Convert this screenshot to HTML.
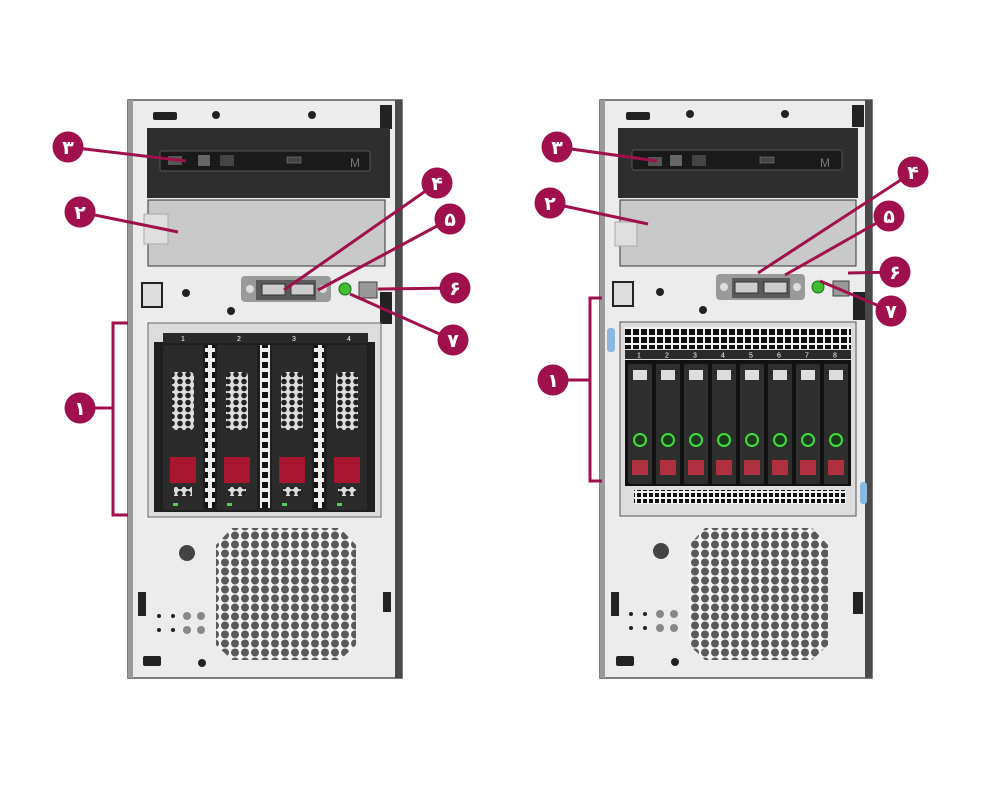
<!DOCTYPE html>
<html><head><meta charset="utf-8"><style>
html,body{margin:0;padding:0;background:#fff;width:1000px;height:800px;overflow:hidden}
svg{display:block}
text{font-family:"Liberation Sans","DejaVu Sans",sans-serif}
</style></head><body>
<svg width="1000" height="800" viewBox="0 0 1000 800" xmlns="http://www.w3.org/2000/svg">
<defs>
<pattern id="hex" x="0" y="0" width="10" height="9" patternUnits="userSpaceOnUse">
<rect width="10" height="9" fill="#f4f4f4"/>
<circle cx="5" cy="4.5" r="4" fill="#5a5a5a"/>
</pattern>
<pattern id="hexd" x="0" y="0" width="8" height="7" patternUnits="userSpaceOnUse">
<rect width="8" height="7" fill="#ddd"/>
<circle cx="4" cy="3.5" r="2.8" fill="#222"/>
</pattern>
<pattern id="vent" x="0" y="0" width="8" height="8" patternUnits="userSpaceOnUse">
<rect width="8" height="8" fill="#f2f2f2"/>
<rect x="1" y="1" width="6" height="6" fill="#111"/>
</pattern>
<pattern id="vent2" x="0" y="0" width="6" height="6" patternUnits="userSpaceOnUse">
<rect width="6" height="6" fill="#f2f2f2"/>
<rect x="1" y="1" width="4" height="4" fill="#111"/>
</pattern>
<pattern id="ladder" x="0" y="0" width="10" height="10" patternUnits="userSpaceOnUse">
<rect width="10" height="10" fill="#eee"/>
<rect x="2" y="2" width="6" height="6" fill="#111"/>
</pattern>
</defs>

<!-- ================= LEFT SERVER ================= -->
<rect x="128" y="100" width="274" height="578" fill="#ececec" stroke="#555" stroke-width="1.5"/>
<rect x="128" y="100" width="5" height="578" fill="#9a9a9a"/>
<rect x="395" y="100" width="7" height="578" fill="#4a4a4a"/>
<rect x="380" y="105" width="12" height="24" fill="#222"/>
<rect x="380" y="292" width="12" height="32" fill="#222"/>
<rect x="153" y="112" width="24" height="8" rx="2" fill="#222"/>
<circle cx="216" cy="115" r="4" fill="#222"/><circle cx="312" cy="115" r="4" fill="#222"/>
<!-- ODD -->
<rect x="147" y="128" width="243" height="70" fill="#2e2e2e"/>
<rect x="160" y="151" width="210" height="20" rx="2" fill="#1a1a1a" stroke="#555"/>
<rect x="168" y="156" width="14" height="9" fill="#555"/>
<rect x="198" y="155" width="12" height="11" fill="#666"/>
<rect x="220" y="155" width="14" height="11" fill="#444"/>
<rect x="287" y="157" width="14" height="6" fill="#444" stroke="#777" stroke-width="0.7"/>
<text x="350" y="167" font-size="12" fill="#777" font-family="Liberation Serif">M</text>
<!-- blank bay -->
<rect x="148" y="200" width="237" height="66" fill="#c9c9c9" stroke="#333" stroke-width="1"/>
<rect x="144" y="214" width="24" height="30" fill="#dedede" stroke="#aaa"/>
<!-- front io -->
<rect x="142" y="283" width="20" height="24" fill="#ddd" stroke="#222" stroke-width="2"/>
<circle cx="186" cy="293" r="4" fill="#222"/><circle cx="231" cy="311" r="4" fill="#222"/>
<rect x="241" y="276" width="90" height="26" rx="4" fill="#9a9a9a"/>
<rect x="256" y="280" width="60" height="20" fill="#5a5a5a"/>
<rect x="262" y="284" width="23" height="11" fill="#ccc" stroke="#333"/>
<rect x="291" y="284" width="23" height="11" fill="#ccc" stroke="#333"/>
<circle cx="250" cy="289" r="4" fill="#ddd"/><circle cx="323" cy="289" r="4" fill="#ddd"/>
<circle cx="345" cy="289" r="6" fill="#3fbf2f" stroke="#1a6a1a"/>
<rect x="359" y="282" width="18" height="16" fill="#999" stroke="#444"/>
<!-- drive cage -->
<rect x="148" y="323" width="233" height="194" fill="#dcdcdc" stroke="#666"/>
<rect x="154" y="342" width="221" height="170" fill="#1f1f1f"/>
<rect x="163" y="333" width="205" height="10" fill="#2a2a2a"/>
<text x="181" y="341" font-size="7" fill="#fff">1</text>
<text x="237" y="341" font-size="7" fill="#fff">2</text>
<text x="292" y="341" font-size="7" fill="#fff">3</text>
<text x="347" y="341" font-size="7" fill="#fff">4</text>
<rect x="205" y="345" width="10" height="163" fill="url(#ladder)"/>
<rect x="260" y="345" width="10" height="163" fill="url(#ladder)"/>
<rect x="314" y="345" width="10" height="163" fill="url(#ladder)"/>
<g>
<rect x="163" y="345" width="40" height="165" rx="2" fill="#2b2b2b"/>
<rect x="172" y="372" width="22" height="58" rx="4" fill="url(#hexd)"/>
<rect x="170" y="457" width="26" height="26" fill="#a8152f"/>
<rect x="174" y="487" width="18" height="9" fill="url(#hexd)"/>
<rect x="173" y="503" width="5" height="3" fill="#5c5"/>
</g>
<g>
<rect x="217" y="345" width="40" height="165" rx="2" fill="#2b2b2b"/>
<rect x="226" y="372" width="22" height="58" rx="4" fill="url(#hexd)"/>
<rect x="224" y="457" width="26" height="26" fill="#a8152f"/>
<rect x="228" y="487" width="18" height="9" fill="url(#hexd)"/>
<rect x="227" y="503" width="5" height="3" fill="#5c5"/>
</g>
<g>
<rect x="272" y="345" width="40" height="165" rx="2" fill="#2b2b2b"/>
<rect x="281" y="372" width="22" height="58" rx="4" fill="url(#hexd)"/>
<rect x="279" y="457" width="26" height="26" fill="#a8152f"/>
<rect x="283" y="487" width="18" height="9" fill="url(#hexd)"/>
<rect x="282" y="503" width="5" height="3" fill="#5c5"/>
</g>
<g>
<rect x="327" y="345" width="40" height="165" rx="2" fill="#2b2b2b"/>
<rect x="336" y="372" width="22" height="58" rx="4" fill="url(#hexd)"/>
<rect x="334" y="457" width="26" height="26" fill="#a8152f"/>
<rect x="338" y="487" width="18" height="9" fill="url(#hexd)"/>
<rect x="337" y="503" width="5" height="3" fill="#5c5"/>
</g>
<!-- bottom -->
<path d="M232,528 L340,528 L356,545 L356,645 L340,660 L232,660 L216,645 L216,545 Z" fill="url(#hex)"/>
<circle cx="187" cy="553" r="8" fill="#444"/>
<rect x="138" y="592" width="8" height="24" fill="#222"/>
<rect x="383" y="592" width="8" height="20" fill="#222"/>
<circle cx="187" cy="616" r="4" fill="#888"/><circle cx="201" cy="616" r="4" fill="#888"/>
<circle cx="187" cy="630" r="4" fill="#888"/><circle cx="201" cy="630" r="4" fill="#888"/>
<circle cx="159" cy="616" r="2" fill="#222"/><circle cx="173" cy="616" r="2" fill="#222"/>
<circle cx="159" cy="630" r="2" fill="#222"/><circle cx="173" cy="630" r="2" fill="#222"/>
<rect x="143" y="656" width="18" height="10" rx="2" fill="#222"/>
<circle cx="202" cy="663" r="4" fill="#222"/>

<!-- ================= RIGHT SERVER ================= -->
<rect x="600" y="100" width="272" height="578" fill="#ececec" stroke="#555" stroke-width="1.5"/>
<rect x="600" y="100" width="5" height="578" fill="#9a9a9a"/>
<rect x="865" y="100" width="7" height="578" fill="#4a4a4a"/>
<rect x="852" y="105" width="12" height="22" fill="#222"/>
<rect x="853" y="292" width="12" height="28" fill="#222"/>
<rect x="626" y="112" width="24" height="8" rx="2" fill="#222"/>
<circle cx="690" cy="114" r="4" fill="#222"/><circle cx="785" cy="114" r="4" fill="#222"/>
<rect x="618" y="128" width="240" height="70" fill="#2e2e2e"/>
<rect x="632" y="150" width="210" height="20" rx="2" fill="#1a1a1a" stroke="#555"/>
<rect x="648" y="157" width="14" height="9" fill="#555"/>
<rect x="670" y="155" width="12" height="11" fill="#666"/>
<rect x="692" y="155" width="14" height="11" fill="#444"/>
<rect x="760" y="157" width="14" height="6" fill="#444" stroke="#777" stroke-width="0.7"/>
<text x="820" y="167" font-size="12" fill="#777" font-family="Liberation Serif">M</text>
<rect x="620" y="200" width="236" height="66" fill="#c9c9c9" stroke="#333" stroke-width="1"/>
<rect x="615" y="222" width="22" height="24" fill="#dedede" stroke="#aaa"/>
<rect x="613" y="282" width="20" height="24" fill="#ddd" stroke="#222" stroke-width="2"/>
<circle cx="660" cy="292" r="4" fill="#222"/><circle cx="703" cy="310" r="4" fill="#222"/>
<rect x="716" y="274" width="89" height="26" rx="4" fill="#9a9a9a"/>
<rect x="732" y="278" width="58" height="20" fill="#5a5a5a"/>
<rect x="735" y="282" width="23" height="11" fill="#ccc" stroke="#333"/>
<rect x="764" y="282" width="23" height="11" fill="#ccc" stroke="#333"/>
<circle cx="724" cy="287" r="4" fill="#ddd"/><circle cx="797" cy="287" r="4" fill="#ddd"/>
<circle cx="818" cy="287" r="6" fill="#3fbf2f" stroke="#1a6a1a"/>
<rect x="833" y="281" width="16" height="15" fill="#999" stroke="#444"/>
<!-- cage -->
<rect x="607" y="328" width="8" height="24" rx="3" fill="#8ab8e0"/>
<rect x="860" y="482" width="7" height="22" rx="3" fill="#8ab8e0"/>
<rect x="620" y="322" width="236" height="194" fill="#dcdcdc" stroke="#555"/>
<rect x="625" y="327" width="226" height="22" fill="url(#vent)"/>
<rect x="625" y="350" width="226" height="9" fill="#2a2a2a"/>
<text x="637" y="357.5" font-size="7" fill="#fff">1</text>
<text x="665" y="357.5" font-size="7" fill="#fff">2</text>
<text x="693" y="357.5" font-size="7" fill="#fff">3</text>
<text x="721" y="357.5" font-size="7" fill="#fff">4</text>
<text x="749" y="357.5" font-size="7" fill="#fff">5</text>
<text x="777" y="357.5" font-size="7" fill="#fff">6</text>
<text x="805" y="357.5" font-size="7" fill="#fff">7</text>
<text x="833" y="357.5" font-size="7" fill="#fff">8</text>
<rect x="625" y="360" width="226" height="126" fill="#111"/>
<g fill="#2e2e2e">
<rect x="628" y="364" width="24" height="120" rx="2"/>
<rect x="656" y="364" width="24" height="120" rx="2"/>
<rect x="684" y="364" width="24" height="120" rx="2"/>
<rect x="712" y="364" width="24" height="120" rx="2"/>
<rect x="740" y="364" width="24" height="120" rx="2"/>
<rect x="768" y="364" width="24" height="120" rx="2"/>
<rect x="796" y="364" width="24" height="120" rx="2"/>
<rect x="824" y="364" width="24" height="120" rx="2"/>
</g>
<g fill="#ddd">
<rect x="633" y="370" width="14" height="10"/><rect x="661" y="370" width="14" height="10"/>
<rect x="689" y="370" width="14" height="10"/><rect x="717" y="370" width="14" height="10"/>
<rect x="745" y="370" width="14" height="10"/><rect x="773" y="370" width="14" height="10"/>
<rect x="801" y="370" width="14" height="10"/><rect x="829" y="370" width="14" height="10"/>
</g>
<g fill="#1a3a1a" stroke="#3ee03e" stroke-width="2">
<circle cx="640" cy="440" r="6"/><circle cx="668" cy="440" r="6"/>
<circle cx="696" cy="440" r="6"/><circle cx="724" cy="440" r="6"/>
<circle cx="752" cy="440" r="6"/><circle cx="780" cy="440" r="6"/>
<circle cx="808" cy="440" r="6"/><circle cx="836" cy="440" r="6"/>
</g>
<g fill="#b03040">
<rect x="632" y="460" width="16" height="15"/><rect x="660" y="460" width="16" height="15"/>
<rect x="688" y="460" width="16" height="15"/><rect x="716" y="460" width="16" height="15"/>
<rect x="744" y="460" width="16" height="15"/><rect x="772" y="460" width="16" height="15"/>
<rect x="800" y="460" width="16" height="15"/><rect x="828" y="460" width="16" height="15"/>
</g>
<rect x="634" y="490" width="212" height="14" fill="url(#vent2)"/>
<path d="M705,528 L812,528 L828,545 L828,645 L812,660 L705,660 L689,645 L689,545 Z" fill="url(#hex)"/>
<circle cx="661" cy="551" r="8" fill="#444"/>
<rect x="611" y="592" width="8" height="24" fill="#222"/>
<rect x="853" y="592" width="10" height="22" fill="#222"/>
<circle cx="660" cy="614" r="4" fill="#888"/><circle cx="674" cy="614" r="4" fill="#888"/>
<circle cx="660" cy="628" r="4" fill="#888"/><circle cx="674" cy="628" r="4" fill="#888"/>
<circle cx="631" cy="614" r="2" fill="#222"/><circle cx="645" cy="614" r="2" fill="#222"/>
<circle cx="631" cy="628" r="2" fill="#222"/><circle cx="645" cy="628" r="2" fill="#222"/>
<rect x="616" y="656" width="18" height="10" rx="2" fill="#222"/>
<circle cx="675" cy="662" r="4" fill="#222"/>

<!-- ================= CALLOUTS ================= -->
<g stroke="#a0104c" stroke-width="3" fill="none">
<line x1="68" y1="147" x2="186" y2="161"/>
<line x1="80" y1="212" x2="178" y2="232"/>
<line x1="437" y1="183" x2="284" y2="290"/>
<line x1="450" y1="219" x2="318" y2="290"/>
<line x1="455" y1="288" x2="378" y2="289"/>
<line x1="453" y1="340" x2="350" y2="294"/>
<polyline points="128,323 113,323 113,515 128,515"/>
<line x1="80" y1="408" x2="113" y2="408"/>
<line x1="557" y1="147" x2="657" y2="161"/>
<line x1="550" y1="203" x2="648" y2="224"/>
<line x1="913" y1="172" x2="758" y2="273"/>
<line x1="889" y1="216" x2="785" y2="275"/>
<line x1="895" y1="272" x2="848" y2="273"/>
<line x1="891" y1="311" x2="820" y2="281"/>
<polyline points="602,298 590,298 590,481 602,481"/>
<line x1="553" y1="380" x2="590" y2="380"/>
</g>
<g fill="#a0104c">
<circle cx="68" cy="147" r="15.5"/><circle cx="80" cy="212" r="15.5"/>
<circle cx="437" cy="183" r="15.5"/><circle cx="450" cy="219" r="15.5"/>
<circle cx="455" cy="288" r="15.5"/><circle cx="453" cy="340" r="15.5"/>
<circle cx="80" cy="408" r="15.5"/>
<circle cx="557" cy="147" r="15.5"/><circle cx="550" cy="203" r="15.5"/>
<circle cx="913" cy="172" r="15.5"/><circle cx="889" cy="216" r="15.5"/>
<circle cx="895" cy="272" r="15.5"/><circle cx="891" cy="311" r="15.5"/>
<circle cx="553" cy="380" r="15.5"/>
</g>
<g fill="#fff" font-size="19" font-weight="bold" text-anchor="middle" font-family="'DejaVu Sans',sans-serif">
<text x="68" y="154">۳</text><text x="80" y="219">۲</text>
<text x="437" y="190">۴</text><text x="450" y="226">۵</text>
<text x="455" y="295">۶</text><text x="453" y="347">۷</text>
<text x="80" y="415">۱</text>
<text x="557" y="154">۳</text><text x="550" y="210">۲</text>
<text x="913" y="179">۴</text><text x="889" y="223">۵</text>
<text x="895" y="279">۶</text><text x="891" y="318">۷</text>
<text x="553" y="387">۱</text>
</g>
</svg>
</body></html>
